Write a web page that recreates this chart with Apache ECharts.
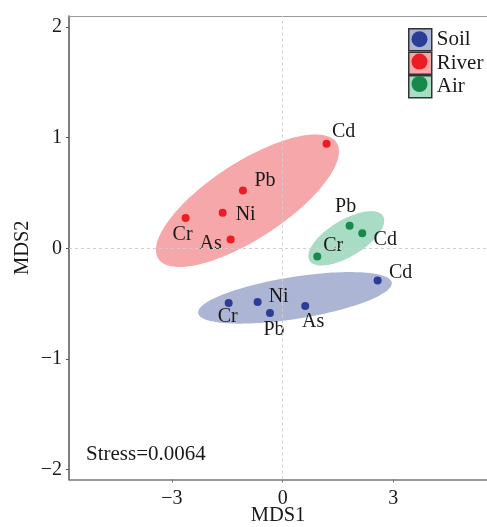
<!DOCTYPE html>
<html>
<head>
<meta charset="utf-8">
<script src="https://cdn.jsdelivr.net/npm/echarts@6/dist/echarts.min.js"></script>
<style>html,body{margin:0;padding:0;background:#fff}#c{width:487px;height:527px}</style>
</head>
<body>
<div id="c"></div>
<script>
// ---- data ----
const xTicks = [-3, 0, 3];
const yTicks = [-2, -1, 0, 1, 2];
const groups = ['Soil', 'River', 'Air'];

const soilNames = ['Cd', 'Cr', 'Ni', 'Pb', 'As'];
const soilX = [2.574, -1.463, -0.678, -0.344, 0.612];
const soilY = [-0.290, -0.495, -0.486, -0.585, -0.522];

const riverNames = ['Cd', 'Pb', 'Ni', 'Cr', 'As'];
const riverX = [1.190, -1.076, -1.626, -2.630, -1.410];
const riverY = [0.945, 0.523, 0.322, 0.273, 0.080];

const airNames = ['Pb', 'Cd', 'Cr'];
const airX = [1.815, 2.157, 0.938];
const airY = [0.204, 0.137, -0.073];

// ellipse: centre x, centre y, major half-axis (dx, dy), minor half-axis (dx, dy)
const soilEllipse = [0.333, -0.448, 2.623, 0.1385, -0.089, 0.1874];
const riverEllipse = [-0.954, 0.430, 2.415, 0.5247, -0.5653, 0.2891];
const airEllipse = [1.724, 0.090, 0.9965, 0.2012, -0.2555, 0.1406];

const stressText = 'Stress=0.0064';

// ---- style ----
const FONT = "'Liberation Serif', 'DejaVu Serif', serif";
const dotColor = { Soil: '#2b3d95', River: '#ea1d24', Air: '#17894a' };
const fillColor = { Soil: '#adb5d5', River: '#f5a7a9', Air: '#a8dcc4' };
const labelOffset = {
  Soil: { Cd: [23, -8], Cr: [-1, 14], Ni: [21, -5], Pb: [4, 17], As: [8, 16] },
  River: { Cd: [17, -12], Pb: [22, -10], Ni: [23, 2], Cr: [-3, 17], As: [-20, 4] },
  Air: { Pb: [-4, -19], Cd: [23, 7], Cr: [16, -11] }
};

const groupData = {
  Soil: { names: soilNames, x: soilX, y: soilY, ell: soilEllipse },
  River: { names: riverNames, x: riverX, y: riverY, ell: riverEllipse },
  Air: { names: airNames, x: airX, y: airY, ell: airEllipse }
};

function fmt(v) { return v < 0 ? '\u2212' + Math.abs(v) : String(v); }

function ellipseRenderer(g) {
  return function (params, api) {
    const cx = api.value(0), cy = api.value(1);
    const ux = api.value(2), uy = api.value(3);
    const vx = api.value(4), vy = api.value(5);
    const pts = [];
    const N = 160;
    for (let k = 0; k < N; k++) {
      const t = 2 * Math.PI * k / N;
      pts.push(api.coord([cx + ux * Math.cos(t) + vx * Math.sin(t),
                          cy + uy * Math.cos(t) + vy * Math.sin(t)]));
    }
    return { type: 'polygon', shape: { points: pts }, style: { fill: fillColor[g], stroke: null } };
  };
}

const series = [{
  type: 'scatter', name: 'zero', data: [], z: 1, silent: true,
  markLine: {
    silent: true, symbol: ['none', 'none'], label: { show: false },
    lineStyle: { color: '#cfcfcf', type: [3, 3], width: 1 },
    animation: false,
    data: [{ xAxis: 0 }, { yAxis: 0 }]
  }
}];

groups.forEach(function (g) {
  const d = groupData[g];
  series.push({
    type: 'custom', name: g + ' ellipse', z: 2, silent: true,
    renderItem: ellipseRenderer(g),
    dimensions: ['cx', 'cy', 'ux', 'uy', 'vx', 'vy'],
    encode: { x: 0, y: 1 },
    data: [d.ell]
  });
});

groups.forEach(function (g) {
  const d = groupData[g];
  series.push({
    type: 'scatter', name: g, z: 3,
    symbolSize: 8,
    itemStyle: { color: dotColor[g], opacity: 1 },
    label: {
      show: true, position: 'inside', formatter: '{b}',
      fontFamily: FONT, fontSize: 20, color: '#1a1a1a', align: 'center', verticalAlign: 'middle'
    },
    data: d.names.map(function (n, i) {
      return { name: n, value: [d.x[i], d.y[i]], label: { offset: labelOffset[g][n] } };
    })
  });
});

const chart = echarts.init(document.getElementById('c'));
chart.setOption({
  animation: false,
  backgroundColor: '#fff',
  grid: { left: 69, top: 16, right: 0, bottom: 47.5, containLabel: false, outerBoundsMode: 'none' },
  xAxis: [{
    type: 'value', min: -5.79, max: 5.538, position: 'bottom',
    name: 'MDS1', nameLocation: 'middle', nameGap: 26, nameMoveOverlap: false,
    nameTextStyle: { fontFamily: FONT, fontSize: 20.5, color: '#1a1a1a' },
    axisLine: { show: true, onZero: false, lineStyle: { color: '#777', width: 1.5 } },
    axisTick: { show: true, customValues: xTicks, length: 3, lineStyle: { color: '#777' } },
    axisLabel: { customValues: xTicks, formatter: fmt, margin: 9, fontFamily: FONT, fontSize: 20, color: '#1a1a1a' },
    splitLine: { show: false }
  }, {
    type: 'value', min: -5.79, max: 5.538, position: 'top',
    axisLine: { show: true, onZero: false, lineStyle: { color: '#999', width: 1 } },
    axisTick: { show: false }, axisLabel: { show: false }, splitLine: { show: false }
  }],
  yAxis: {
    type: 'value', min: -2.09, max: 2.1,
    name: 'MDS2', nameLocation: 'middle', nameGap: 36, nameMoveOverlap: false,
    nameTextStyle: { fontFamily: FONT, fontSize: 20.5, color: '#1a1a1a' },
    axisLine: { show: true, onZero: false, lineStyle: { color: '#555', width: 1.5 } },
    axisTick: { show: true, customValues: yTicks, length: 3, lineStyle: { color: '#555' } },
    axisLabel: { customValues: yTicks, formatter: fmt, margin: 7, fontFamily: FONT, fontSize: 20, color: '#1a1a1a' },
    splitLine: { show: false }
  },
  legend: [{
    orient: 'vertical', left: 408, top: 28, padding: 0, itemGap: 0,
    itemWidth: 23, itemHeight: 22, icon: 'rect', selectedMode: false,
    textStyle: { fontFamily: FONT, fontSize: 21, lineHeight: 22.4, color: '#1a1a1a' },
    data: groups.map(function (g) {
      return { name: g, itemStyle: { color: fillColor[g], borderColor: '#333', borderWidth: 1.5 } };
    })
  }, {
    orient: 'vertical', left: 411.5, top: 31.2, padding: 0, itemGap: 6.4,
    itemWidth: 16, itemHeight: 16, icon: 'circle', selectedMode: false,
    formatter: function () { return ''; },
    textStyle: { fontSize: 1 },
    data: groups.map(function (g) {
      return { name: g, itemStyle: { color: dotColor[g], borderWidth: 0 } };
    })
  }],
  graphic: [{
    type: 'text', left: 86, top: 444,
    style: { text: stressText, fontFamily: FONT, fontSize: 21, fill: '#1a1a1a' }
  }],
  series: series
});
</script>
</body>
</html>
